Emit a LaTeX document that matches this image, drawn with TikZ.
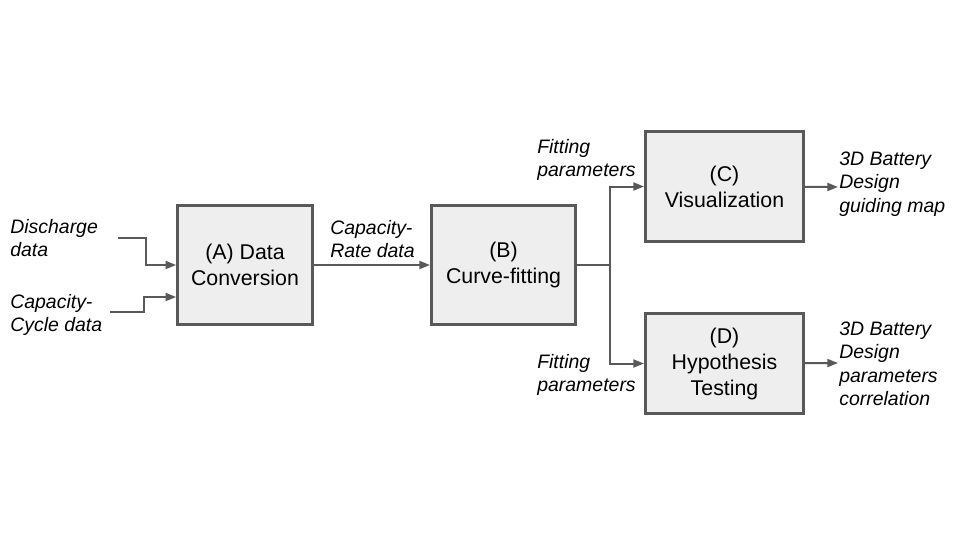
\documentclass[tikz,border=0pt]{standalone}
\usepackage{fontspec}
\setmainfont{Liberation Sans}
\usetikzlibrary{arrows.meta,calc}

\definecolor{boxgray}{HTML}{595959}
\definecolor{boxfill}{HTML}{EEEEEE}

\begin{document}
\begin{tikzpicture}[
        x=0.75pt, y=-0.75pt,
        stage/.style={draw=boxgray, line width=2.25pt, fill=boxfill, align=center, font=\fontsize{16}{19.5}\selectfont},
        lbl/.style={anchor=west, align=left, inner sep=0pt, font=\fontsize{14.6}{17.6}\selectfont\itshape},
        flow/.style={draw=boxgray, line width=1.5pt, -{Triangle[length=8pt, width=6pt]}}
    ]
        \useasboundingbox (0,0) rectangle (960,540);

        \node[stage, minimum width=101pt, minimum height=89pt] (conv) at (245,265) {(A) Data\\Conversion};
        \node[stage, minimum width=108pt, minimum height=89pt] (fit) at (503.5,265) {(B)\\Curve-fitting};
        \node[stage, minimum width=118.5pt, minimum height=82.5pt] (vis) at (724.5,186.5) {(C)\\Visualization};
        \node[stage, minimum width=118.5pt, minimum height=75pt] (hyp) at (724.5,363.5) {(D)\\Hypothesis\\Testing};

        \node[lbl] (lblDischarge) at (10,238) {Discharge\\data};
        \node[lbl] (lblCycle) at (10,315) {Capacity-\\Cycle data};
        \node[lbl] (lblRate) at (330,239) {Capacity-\\Rate data};
        \node[lbl] (lblFitC) at (537,160) {Fitting\\parameters};
        \node[lbl] (lblFitD) at (537,375) {Fitting\\parameters};
        \node[lbl] (lblMap) at (839,184) {3D Battery\\Design\\guiding map};
        \node[lbl] (lblCorr) at (839,364) {3D Battery\\Design\\parameters\\correlation};

        \coordinate (inDischarge) at (118,238);
        \coordinate (inCycle) at (110,312);
        \coordinate (split) at (610,265);
        \coordinate (outMap) at (838,187);
        \coordinate (outCorr) at (838,363);

        \draw[flow] (inDischarge) -- ++(28,0) |- (conv.west);
        \draw[flow] (inCycle) -- ++(34,0) |- ($(conv.west)+(0,32)$);
        \draw[flow] (conv) -- (fit);
        \draw[draw=boxgray, line width=1.5pt] (fit) -- (split);
        \draw[flow] (split) |- (vis);
        \draw[flow] (split) |- (hyp);
        \draw[flow] (vis) -- (outMap);
        \draw[flow] (hyp) -- (outCorr);
    \end{tikzpicture}
\end{document}
